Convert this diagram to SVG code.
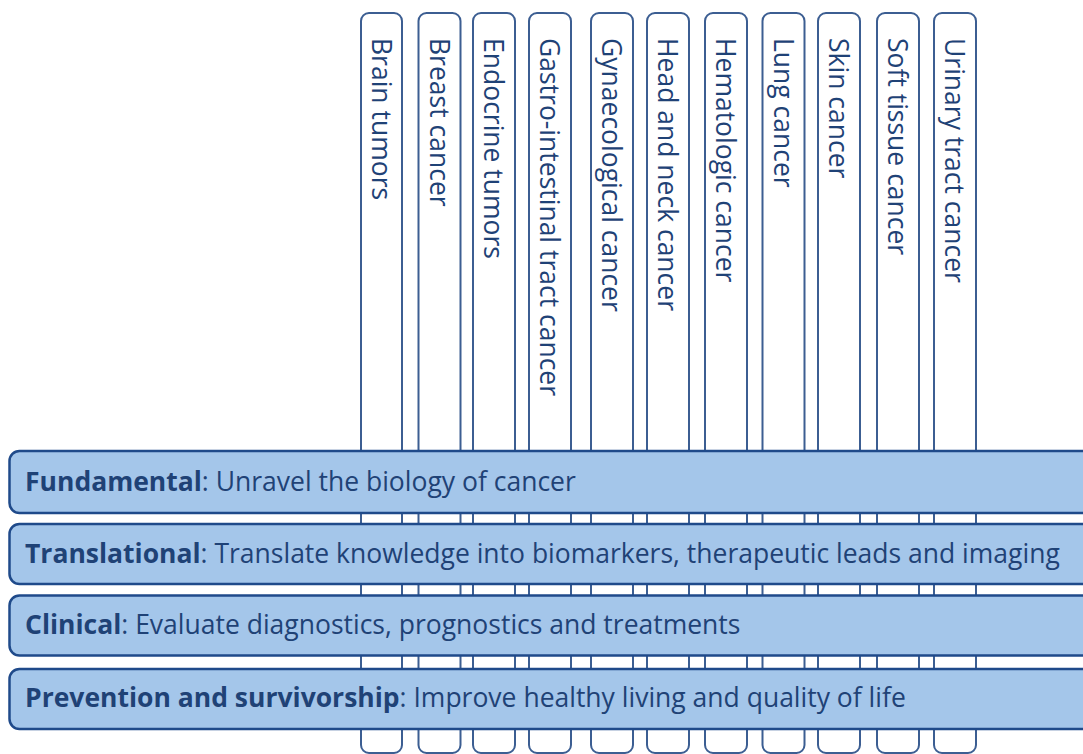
<svg xmlns="http://www.w3.org/2000/svg" width="1083" height="754" viewBox="0 0 1083 754">
<style>
.col{fill:#ffffff;stroke:#3C5E92;stroke-width:2}
.bar{fill:#A4C6EA;stroke:#1F4A8A;stroke-width:2.5}
.vt{font-family:"Open Sans","Noto Sans","DejaVu Sans",sans-serif;font-size:26.5px;fill:#1F4276}
.ht{font-family:"Open Sans","Noto Sans","DejaVu Sans",sans-serif;font-size:26.5px;fill:#1F4276}
.b{font-weight:bold}
</style>
<rect width="1083" height="754" fill="#ffffff"/>
<g id="columns">
<g id="col-brain"><rect class="col" x="361" y="13" width="41" height="740" rx="8"/><text class="vt" x="372" y="38" transform="rotate(90 372 38)">Brain tumors</text></g>
<g id="col-breast"><rect class="col" x="418.5" y="13" width="42" height="740" rx="8"/><text class="vt" x="429.5" y="38" transform="rotate(90 429.5 38)">Breast cancer</text></g>
<g id="col-endocrine"><rect class="col" x="473" y="13" width="42" height="740" rx="8"/><text class="vt" x="484" y="38" transform="rotate(90 484 38)">Endocrine tumors</text></g>
<g id="col-gastro"><rect class="col" x="529" y="13" width="42" height="740" rx="8"/><text class="vt" x="540" y="38" transform="rotate(90 540 38)">Gastro-intestinal tract cancer</text></g>
<g id="col-gynae"><rect class="col" x="591" y="13" width="42" height="740" rx="8"/><text class="vt" x="602" y="38" transform="rotate(90 602 38)">Gynaecological cancer</text></g>
<g id="col-headneck"><rect class="col" x="647" y="13" width="42" height="740" rx="8"/><text class="vt" x="658" y="38" transform="rotate(90 658 38)">Head and neck cancer</text></g>
<g id="col-hemato"><rect class="col" x="705" y="13" width="42" height="740" rx="8"/><text class="vt" x="716" y="38" transform="rotate(90 716 38)">Hematologic cancer</text></g>
<g id="col-lung"><rect class="col" x="762.5" y="13" width="42" height="740" rx="8"/><text class="vt" x="773.5" y="38" transform="rotate(90 773.5 38)">Lung cancer</text></g>
<g id="col-skin"><rect class="col" x="818" y="13" width="42" height="740" rx="8"/><text class="vt" x="829" y="38" transform="rotate(90 829 38)">Skin cancer</text></g>
<g id="col-softtissue"><rect class="col" x="877" y="13" width="42" height="740" rx="8"/><text class="vt" x="888" y="38" transform="rotate(90 888 38)">Soft tissue cancer</text></g>
<g id="col-urinary"><rect class="col" x="934" y="13" width="42" height="740" rx="8"/><text class="vt" x="945" y="38" transform="rotate(90 945 38)">Urinary tract cancer</text></g>
</g>
<g id="bars">
<g id="bar-fundamental"><rect class="bar" x="9.5" y="451" width="1090" height="62" rx="10"/><text class="ht" x="25" y="491"><tspan class="b">Fundamental</tspan>: Unravel the biology of cancer</text></g>
<g id="bar-translational"><rect class="bar" x="9.5" y="524" width="1090" height="60" rx="10"/><text class="ht" x="25" y="562.5"><tspan class="b">Translational</tspan>: Translate knowledge into biomarkers, therapeutic leads and imaging</text></g>
<g id="bar-clinical"><rect class="bar" x="9.5" y="595.5" width="1090" height="60" rx="10"/><text class="ht" x="25" y="634"><tspan class="b">Clinical</tspan>: Evaluate diagnostics, prognostics and treatments</text></g>
<g id="bar-prevention"><rect class="bar" x="9.5" y="669" width="1090" height="60" rx="10"/><text class="ht" x="25" y="707"><tspan class="b">Prevention and survivorship</tspan>: Improve healthy living and quality of life</text></g>
</g>
</svg>
